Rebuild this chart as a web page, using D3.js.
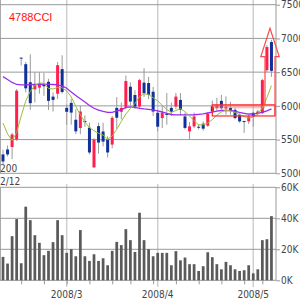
<!DOCTYPE html>
<html>
<head>
<meta charset="utf-8">
<script src="https://cdn.jsdelivr.net/npm/d3@7"></script>
<style>
body { margin: 0; background: #fff; }
svg { display: block; }
.lbl { font-family: "Liberation Sans Narrow", "DejaVu Sans Condensed", "Liberation Sans", sans-serif; font-size: 10px; fill: #444; }
</style>
</head>
<body>
<script>
// data
const dates = ["2/12","2/13","2/14","2/15","2/18","2/19","2/20","2/21","2/22","2/25","2/26","2/27","2/28","2/29",
  "3/3","3/4","3/5","3/6","3/7","3/10","3/11","3/12","3/13","3/14","3/17","3/18","3/19","3/21","3/24","3/25","3/26","3/27","3/28","3/31",
  "4/1","4/2","4/3","4/4","4/7","4/8","4/9","4/10","4/11","4/14","4/15","4/16","4/17","4/18","4/21","4/22","4/23","4/24","4/25","4/28","4/30",
  "5/1","5/2","5/7","5/8","5/9"]
const openP = [52800,53530,53900,55000,67150,66180,63500,62450,62700,63200,63570,61370,61800,65450,59700,60440,57940,56720,57750,56760,50880,57000,56200,55000,54260,59700,59120,59850,62840,61610,59900,63440,63380,62100,58970,58190,58800,59700,59900,60880,58430,56220,56960,56900,57350,57060,59900,59660,60740,59600,59700,59410,58680,57750,57700,58970,58780,58920,65290,69460]
const highP = [53500,54120,56000,62500,67150,66500,67650,65000,65000,64900,64000,62000,66500,67500,60200,61000,59500,60000,58600,57500,55200,57500,57500,55500,58500,61300,60500,64500,63500,62300,64000,65590,64300,62800,59400,60000,61900,60500,61900,61900,59000,57600,59000,57300,57700,59000,60800,61200,61620,61400,60600,59700,58900,57800,58700,59150,59400,64000,69000,69800]
const lowP = [51200,52500,52100,54800,66000,62000,59400,60500,61800,61500,59400,59160,61000,61800,57200,57200,55800,55800,56900,52800,50800,52900,54000,52350,53700,56600,58000,59500,60000,59500,59700,61320,61000,58500,56220,56700,57200,58500,59500,58600,56500,55000,56700,56500,56300,56900,58700,59300,59400,58700,58700,58000,57500,56000,57300,56900,58600,58800,65000,64300]
const closeP = [51750,52800,55750,62250,67150,62600,60400,63090,63350,62900,60740,60880,66030,62060,59120,59000,56220,59160,57650,53090,55000,54560,54700,53090,58240,58240,59700,63680,60640,59880,63820,61870,61620,59160,56910,59000,58680,59120,61370,59410,56730,56960,58430,56850,56620,58820,59160,60150,59660,59900,59400,58190,57700,57650,58430,58430,59160,63820,68720,65190]
const volK = [15.1,10.8,28.5,39.5,11.0,47.5,38.8,29.1,24.2,16.2,19.0,24.6,38.8,29.1,17.7,20.1,15.5,32.4,15.5,12.5,16.8,12.5,14.2,9.7,19.0,24.8,22.7,33.0,25.9,18.3,43.6,25.9,20.1,15.5,17.7,17.7,17.7,9.7,18.8,12.9,14.7,10.4,10.4,6.0,9.1,18.1,14.9,10.4,7.1,11.9,9.7,7.1,6.0,6.5,9.7,4.5,7.1,25.9,26.5,41.4]
const ma5 = [57460,55830,54860,56050,58500,60720,62160,63020,63390,63350,62580,62500,62720,62680,62210,61320,59910,58680,57610,56780,56320,55920,55680,55040,55530,56530,57680,58790,59610,60350,61360,61790,61690,61200,60750,60060,59460,59020,59310,59580,59150,58500,57790,57160,57190,57470,57950,58650,59090,59360,59240,59020,58680,58410,58200,58350,58790,59710,61200,62990]
const ma25 = [64330,63910,63470,63170,63120,63120,63140,63170,63200,63210,63200,63170,63120,62950,62610,62060,61540,61050,60570,60060,59640,59360,59170,59020,59020,59240,59420,59760,59860,59760,59640,59540,59490,59390,59240,59090,58870,58720,58650,58650,58650,58650,58680,58750,58820,58940,59060,59210,59310,59340,59310,59170,59020,58900,58790,58790,58910,59050,59270,59540]

const priceTicks = [50000,55000,60000,65000,70000,75000]
const volTicks = [0,20,40,60]
const volTickLabels = ["0K","20K","40K","60K"]
const monthDates = ["3/3","4/1","5/1"]
const monthLabels = ["2008/3","2008/4","2008/5"]
const weekDates = ["2/18","2/25","3/3","3/10","3/17","3/24","3/31","4/7","4/14","4/21","4/28","5/7"]
const title = "4788CCI"

// box breakout annotation
const boxFrom = "4/17"
const boxPrice = [58500, 60150]
const arrowPrice = [67300, 71500] // head base, tip

// layout
const width = 300, height = 300
const plotR = 276
const upColor = "#ff1f4f", downColor = "#12309a"

const svg = d3.select("body").append("svg")
    .attr("width", width)
    .attr("height", height)

const x = d3.scalePoint().domain(dates).range([3, 271.45])
const step = x.step()
const y = d3.scaleLinear().domain([50000, 75000]).range([173.3, 4.7])
const yv = d3.scaleLinear().domain([0, 60]).range([280.3, 187.3])

// vertical month grid
monthDates.forEach(d => {
  svg.append("line").attr("x1", x(d)).attr("x2", x(d)).attr("y1", 0).attr("y2", y(50000))
    .attr("stroke", "#cfcfcf").attr("stroke-width", 1.5)
  svg.append("line").attr("x1", x(d)).attr("x2", x(d)).attr("y1", 184).attr("y2", 287)
    .attr("stroke", "#cfcfcf").attr("stroke-width", 1.5)
})

// frames
svg.append("line").attr("x1", 0.5).attr("x2", 0.5).attr("y1", 0).attr("y2", y(50000)).attr("stroke", "#aaa")
svg.append("line").attr("x1", 0.5).attr("x2", 0.5).attr("y1", yv(60)).attr("y2", yv(0)).attr("stroke", "#aaa")
svg.append("line").attr("x1", plotR).attr("x2", plotR).attr("y1", 0).attr("y2", y(50000)).attr("stroke", "#bbb").attr("stroke-width", 1.5)
svg.append("line").attr("x1", plotR).attr("x2", plotR).attr("y1", yv(60)).attr("y2", yv(0)).attr("stroke", "#bbb").attr("stroke-width", 1.5)

// price axis + grid
const yAxisG = svg.append("g").attr("transform", `translate(${plotR},0)`)
    .call(d3.axisRight(y).tickValues(priceTicks).tickSize(4).tickPadding(1).tickFormat(d3.format("d")))
yAxisG.select(".domain").remove()
yAxisG.selectAll(".tick line").attr("stroke", "#999")
yAxisG.selectAll("text").attr("class", "lbl")
svg.append("g").selectAll("line").data(priceTicks).enter().append("line")
    .attr("x1", 0).attr("x2", plotR)
    .attr("y1", d => y(d)).attr("y2", d => y(d))
    .attr("stroke", "#999")

// volume axis + grid
const vAxisG = svg.append("g").attr("transform", `translate(${plotR},0)`)
    .call(d3.axisRight(yv).tickValues(volTicks).tickSize(4).tickPadding(1).tickFormat((d, i) => volTickLabels[i]))
vAxisG.select(".domain").remove()
vAxisG.selectAll(".tick line").attr("stroke", "#999")
vAxisG.selectAll("text").attr("class", "lbl")
svg.append("g").selectAll("line").data(volTicks).enter().append("line")
    .attr("x1", 0).attr("x2", plotR)
    .attr("y1", d => yv(d)).attr("y2", d => yv(d))
    .attr("stroke", "#999")

// bottom ticks
const xAxisG = svg.append("g").attr("transform", `translate(0,${yv(0)})`)
    .call(d3.axisBottom(x).tickValues(weekDates).tickSize(4).tickFormat(""))
xAxisG.select(".domain").remove()
xAxisG.selectAll(".tick line").attr("stroke", "#999")

svg.append("g").selectAll("text").data(monthDates).enter().append("text")
    .attr("class", "lbl")
    .attr("x", d => x(d))
    .attr("y", 298)
    .attr("text-anchor", "middle")
    .text((d, i) => monthLabels[i])

// first date label, partly hidden at the left
svg.append("text").attr("class", "lbl").attr("x", 0).attr("y", 172).text("200")
svg.append("text").attr("class", "lbl").attr("x", 0).attr("y", 185).text("2/12")

// volume bars
svg.append("g").selectAll("rect").data(dates).enter().append("rect")
    .attr("x", d => x(d) - step * 0.3)
    .attr("width", step * 0.6)
    .attr("y", (d, i) => yv(volK[i]))
    .attr("height", (d, i) => yv(0) - yv(volK[i]))
    .attr("fill", "#5a5a5a")

// candles
const candles = svg.append("g").selectAll("g").data(dates).enter().append("g")
candles.append("line")
    .attr("x1", d => x(d)).attr("x2", d => x(d))
    .attr("y1", (d, i) => y(highP[i]))
    .attr("y2", (d, i) => y(lowP[i]))
    .attr("stroke", "#9a9a9a")
candles.append("rect")
    .attr("x", d => x(d) - step * 0.33)
    .attr("width", step * 0.66)
    .attr("y", (d, i) => y(Math.max(openP[i], closeP[i])))
    .attr("height", (d, i) => Math.max(1, Math.abs(y(openP[i]) - y(closeP[i]))))
    .attr("fill", (d, i) => closeP[i] > openP[i] ? upColor : downColor)

// moving averages
const line = d3.line().x((d, i) => x(dates[i])).y(d => y(d))
svg.append("path").datum(ma25).attr("d", line)
    .attr("fill", "none").attr("stroke", "#9a2cf0").attr("stroke-width", 1.3)
svg.append("path").datum(ma5).attr("d", line)
    .attr("fill", "none").attr("stroke", "#99c03a").attr("stroke-width", 1)

// box + arrow
const bx0 = x(boxFrom), bx1 = plotR - 1
const ax = bx1 - 5
svg.append("rect")
    .attr("x", bx0).attr("width", ax - 5 - bx0)
    .attr("y", y(boxPrice[1])).attr("height", 3.5)
    .attr("fill", "#ff7070").attr("opacity", 0.45)
svg.append("rect")
    .attr("x", bx0).attr("width", bx1 - bx0)
    .attr("y", y(boxPrice[1])).attr("height", y(boxPrice[0]) - y(boxPrice[1]))
    .attr("fill", "none").attr("stroke", "#ff2a2a").attr("stroke-width", 1.2)
const arrowPts = [
  [ax - 5, y(boxPrice[1])], [ax - 5, y(arrowPrice[0])], [ax - 9.2, y(arrowPrice[0])],
  [ax, y(arrowPrice[1])], [ax + 9.2, y(arrowPrice[0])], [ax + 5, y(arrowPrice[0])], [ax + 5, y(boxPrice[0])]
]
svg.append("path").attr("d", d3.line()(arrowPts))
    .attr("fill", "none").attr("stroke", "#ff4a4a").attr("stroke-width", 1.2)

// title
svg.append("text").attr("x", 9).attr("y", 21)
    .attr("font-family", "Liberation Sans, Arial, sans-serif").attr("font-size", 11)
    .attr("fill", "#ff1010").text(title)
</script>
</body>
</html>
